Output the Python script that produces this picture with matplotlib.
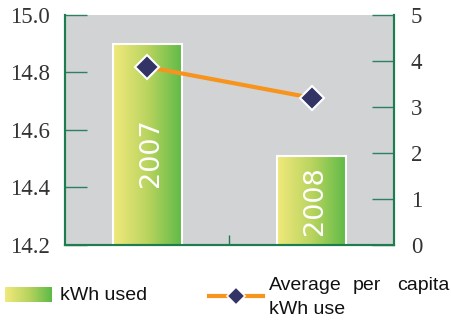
import numpy as np
import matplotlib
matplotlib.use("Agg")
import matplotlib.pyplot as plt
from matplotlib.colors import LinearSegmentedColormap
from matplotlib.lines import Line2D

plt.rcParams["font.family"] = ["Liberation Serif", "DejaVu Serif"]

years = ["2007", "2008"]
kwh_used = [14.90, 14.51]
per_capita = [3.87, 3.20]
left_ticks = [14.2, 14.4, 14.6, 14.8, 15.0]
right_ticks = [0, 1, 2, 3, 4, 5]

green = "#1e7d4f"
bg = "#d2d3d5"
orange = "#f7941d"
navy = "#323466"
cmap = LinearSegmentedColormap.from_list("g", ["#f1e97c", "#b9d45f", "#5dba47"])
sans = ["Liberation Sans", "DejaVu Sans"]

fig = plt.figure(figsize=(4.52, 3.2), dpi=100)
ax = fig.add_axes([65/452, 1-245/320, (394-65)/452, 230/320])
ax.set_facecolor(bg)
x = np.arange(len(years))
bars = ax.bar(x, kwh_used, width=0.42, bottom=0, color="none",
              edgecolor="white", linewidth=1.5, zorder=3)
ax.set_xlim(-0.5, 1.5)
ax.set_ylim(14.2, 15.0)
grad = np.linspace(0, 1, 256).reshape(1, -1)
for b, yr in zip(bars, years):
    x0, w, h = b.get_x(), b.get_width(), b.get_height()
    ax.imshow(grad, cmap=cmap, aspect="auto",
              extent=[x0, x0 + w, 14.2, h], zorder=2)
    ymid = 14.2 + (h - 14.2) * 0.5 if h - 14.2 < 0.5 else h - 0.38
    ax.text(x0 + w/2 + 0.02, ymid, yr, rotation=90, color="white", ha="center",
            va="center", fontsize=19.5, family="DejaVu Sans", zorder=4)
ax.set_xlim(-0.5, 1.5)
ax.set_ylim(14.2, 15.0)
ax.set_yticks(left_ticks)
ax.set_yticklabels([f"{v:.1f}" for v in left_ticks])
ax.set_xticks([0.5])
ax.set_xticklabels([""])
ax.tick_params(axis="y", direction="in", length=16, width=1, color="#2e8060",
               pad=11, labelsize=16.5, labelcolor="#333333")
ax.tick_params(axis="x", direction="in", length=7, width=1, color=green)
ax.spines["top"].set_visible(False)
for s in ["left", "bottom", "right"]:
    ax.spines[s].set_color(green)
    ax.spines[s].set_linewidth(1.5)

ax2 = ax.twinx()
ax2.plot(x, per_capita, color=orange, lw=3, marker="D", ms=12,
         mfc=navy, mec="white", mew=1.5, zorder=5)
ax2.set_ylim(0, 5)
ax2.set_yticks(right_ticks)
ax2.tick_params(axis="y", direction="in", length=16, width=1, color="#2e8060",
                pad=12, labelsize=16.5, labelcolor="#333333")
ax2.spines["top"].set_visible(False)
for s in ["left", "bottom", "right"]:
    ax2.spines[s].set_color(green)
    ax2.spines[s].set_linewidth(1.5)

# legend
lax = fig.add_axes([5/452, 1-302/320, 47/452, 15/320])
lax.imshow(grad, cmap=cmap, aspect="auto")
lax.axis("off")
fig.text(60/452, 1-296/320, "kWh used", fontsize=14, family=sans,
         va="center", ha="left", color="#111111")
fig.add_artist(Line2D([209/452, 263/452], [1-296/320, 1-296/320], color=orange, lw=3,
                      transform=fig.transFigure))
fig.add_artist(Line2D([236/452], [1-296/320], marker="D", ms=9, mfc=navy,
                      mec="white", mew=1.2, transform=fig.transFigure))
for word, xp, ha in [("Average", 269, "left"), ("per", 353, "left"), ("capita", 450, "right")]:
    fig.text(xp/452, 1-285/320, word, fontsize=14, family=sans,
             va="center", ha=ha, color="#111111")
fig.text(269/452, 1-310/320, "kWh use", fontsize=14, family=sans,
         va="center", ha="left", color="#111111")

fig.savefig("out.png", dpi=100)
